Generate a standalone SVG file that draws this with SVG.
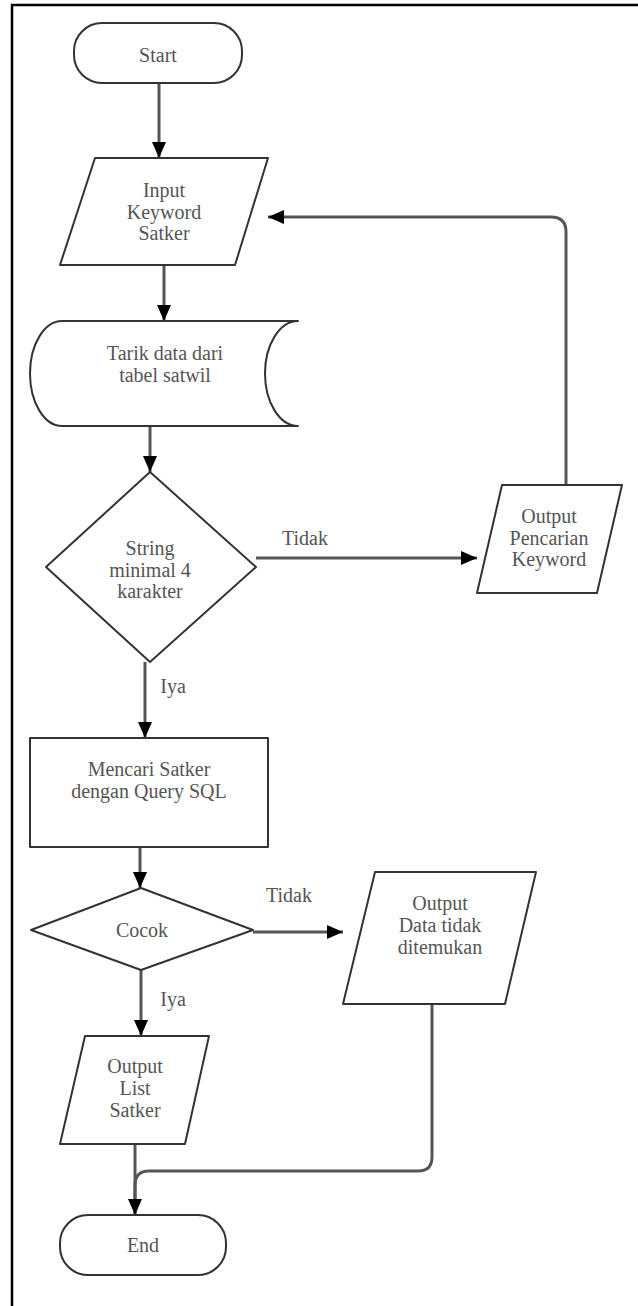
<svg xmlns="http://www.w3.org/2000/svg" width="638" height="1306" viewBox="0 0 638 1306">
  <defs>
    <marker id="arrow" markerUnits="userSpaceOnUse" markerWidth="16" markerHeight="14" refX="16" refY="7" orient="auto">
      <path d="M0,0 L16,7 L0,14 Z" fill="#000"/>
    </marker>
    <style>
      .shape { fill: #fff; stroke: #333; stroke-width: 2; stroke-linejoin: round; }
      .edge { fill: none; stroke: #555; stroke-width: 3; }
      .lbl { font-family: "Liberation Serif", "Times New Roman", serif; font-size: 20px; fill: #555; text-anchor: middle; }
    </style>
  </defs>

  <rect width="638" height="1306" fill="#fff"/>
  <!-- page frame -->
  <path d="M12,1306 V5 H638" fill="none" stroke="#000" stroke-width="2.5"/>

  <g id="connectors">
    <path class="edge" d="M159,83 V158" marker-end="url(#arrow)"/>
    <path class="edge" d="M164,265 V321" marker-end="url(#arrow)"/>
    <path class="edge" d="M150,426 V472" marker-end="url(#arrow)"/>
    <path class="edge" d="M256,558 H477" marker-end="url(#arrow)"/>
    <path class="edge" d="M566,485 V232 Q566,217 551,217 H268" marker-end="url(#arrow)"/>
    <path class="edge" d="M145,662 V738" marker-end="url(#arrow)"/>
    <path class="edge" d="M140,847 V888" marker-end="url(#arrow)"/>
    <path class="edge" d="M253,932 H343" marker-end="url(#arrow)"/>
    <path class="edge" d="M141,970 V1036" marker-end="url(#arrow)"/>
    <path class="edge" d="M432,1004 V1157 Q432,1171 418,1171 H149 Q135,1171 135,1185 V1215"/>
    <path class="edge" d="M135,1144 V1215" marker-end="url(#arrow)"/>
    <text class="lbl" x="305" y="545">Tidak</text>
    <text class="lbl" x="173" y="693">Iya</text>
    <text class="lbl" x="289" y="902">Tidak</text>
    <text class="lbl" x="173" y="1006">Iya</text>
  </g>

  <g id="start">
    <rect class="shape" x="74" y="23" width="168" height="60" rx="28"/>
    <text class="lbl" x="158" y="62">Start</text>
  </g>

  <g id="input-keyword">
    <polygon class="shape" points="95,158 268,158 235,265 60,265"/>
    <text class="lbl" x="164" y="197">Input</text>
    <text class="lbl" x="164" y="219">Keyword</text>
    <text class="lbl" x="164" y="240">Satker</text>
  </g>

  <g id="tarik-data">
    <path class="shape" d="M62,321 H298 A33,52.5 0 0 0 298,426 H62 A32,52.5 0 0 1 62,321 Z"/>
    <text class="lbl" x="165" y="360">Tarik data dari</text>
    <text class="lbl" x="165" y="382">tabel satwil</text>
  </g>

  <g id="cek-string">
    <polygon class="shape" points="150,472 256,567 150,662 46,567"/>
    <text class="lbl" x="150" y="555">String</text>
    <text class="lbl" x="150" y="577">minimal 4</text>
    <text class="lbl" x="150" y="598">karakter</text>
  </g>

  <g id="output-pencarian">
    <polygon class="shape" points="502,485 622,485 597,593 477,593"/>
    <text class="lbl" x="549" y="523">Output</text>
    <text class="lbl" x="549" y="545">Pencarian</text>
    <text class="lbl" x="549" y="566">Keyword</text>
  </g>

  <g id="mencari-satker">
    <rect class="shape" x="30" y="738" width="238" height="109"/>
    <text class="lbl" x="149" y="776">Mencari Satker</text>
    <text class="lbl" x="149" y="798">dengan Query SQL</text>
  </g>

  <g id="cocok">
    <polygon class="shape" points="141,888 253,930 141,970 31,930"/>
    <text class="lbl" x="142" y="937">Cocok</text>
  </g>

  <g id="output-tidak-ditemukan">
    <polygon class="shape" points="375,872 536,872 505,1004 343,1004"/>
    <text class="lbl" x="440" y="910">Output</text>
    <text class="lbl" x="440" y="932">Data tidak</text>
    <text class="lbl" x="440" y="954">ditemukan</text>
  </g>

  <g id="output-list">
    <polygon class="shape" points="85,1036 209,1036 185,1144 60,1144"/>
    <text class="lbl" x="135" y="1073">Output</text>
    <text class="lbl" x="135" y="1095">List</text>
    <text class="lbl" x="135" y="1117">Satker</text>
  </g>

  <g id="end">
    <rect class="shape" x="60" y="1215" width="166" height="60" rx="28"/>
    <text class="lbl" x="143" y="1252">End</text>
  </g>
</svg>
